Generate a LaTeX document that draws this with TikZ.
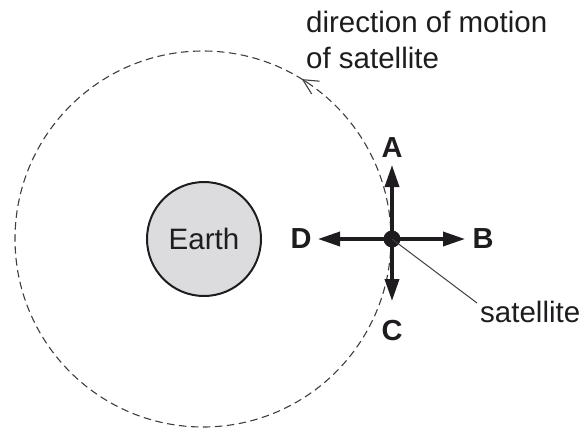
\documentclass[tikz,border=0pt]{standalone}
\usepackage{fontspec}
\setmainfont{Liberation Sans}
\usetikzlibrary{arrows.meta}
\definecolor{earthgray}{RGB}{220,220,223}
\definecolor{ink}{RGB}{30,28,30}
\begin{document}
\begin{tikzpicture}[x=1pt,y=-1pt,
  lbl/.style={font=\fontsize{29.5}{34}\selectfont, inner sep=0pt, text=ink},
  letter/.style={font=\fontsize{29}{33}\selectfont\bfseries, inner sep=0pt, text=ink},
  force/.style={line width=3.5pt, draw=ink, -{Triangle[length=22pt,width=14pt]}},
  orbit/.style={dash pattern=on 7.5pt off 4.5pt, line width=1.1pt, draw=ink!85},
]
\useasboundingbox (0,0) rectangle (582,429);
% orbit
\draw[orbit] (203,239) circle[radius=188];
\draw[line width=1.1pt, draw=ink!85, -{Straight Barb[length=15pt,width=15pt]}]
  (203,239) ++(-56.5:188) arc[start angle=-56.5, end angle=-58.3, radius=188];
% Earth
\node[circle, draw=ink, line width=2pt, fill=earthgray, minimum size=114pt, inner sep=0pt, lbl] (earth) at (204,239) {Earth};
% arrow ends
\coordinate (tA) at (392,165);
\coordinate (tB) at (465,239);
\coordinate (tC) at (392,301);
\coordinate (tD) at (318,239);
\coordinate (sat) at (392,239);
\draw[force] (sat) -- (tA);
\draw[force] (sat) -- (tB);
\draw[force] (sat) -- (tC);
\draw[force] (sat) -- (tD);
\node[circle, fill=ink, minimum size=17pt, inner sep=0pt] (satdot) at (sat) {};
% letters
\node[letter] (A) at (392,148) {A};
\node[letter] (B) at (483,239) {B};
\node[letter] (C) at (392,331) {C};
\node[letter] (D) at (301,239) {D};
% satellite label
\coordinate (leadend) at (477,303);
\draw[line width=1pt, draw=ink!85] (satdot.center) -- (leadend);
\node[lbl, anchor=base west] (satlbl) at (480,322) {satellite};
% direction label
\node[lbl, anchor=base west] (dir1) at (306,32) {direction of motion};
\node[lbl, anchor=base west] (dir2) at (306,68) {of satellite};
\end{tikzpicture}
\end{document}
